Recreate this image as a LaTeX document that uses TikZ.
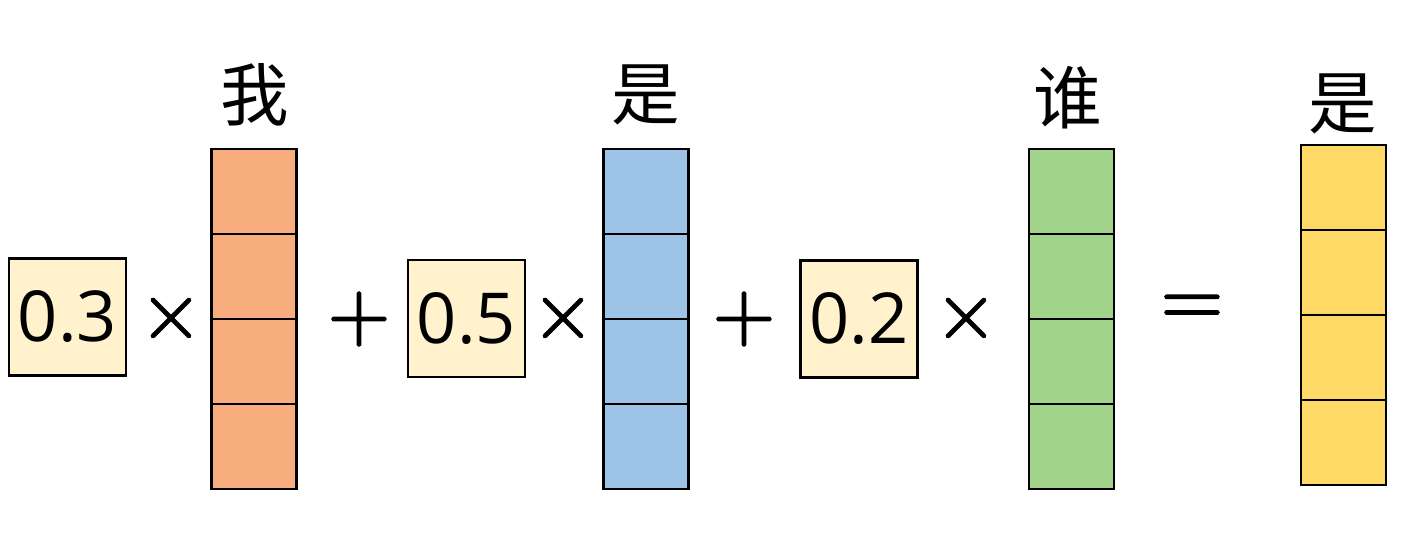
\documentclass[tikz,border=0pt]{standalone}
\usepackage{fontspec}
\setmainfont{Open Sans}
\newfontfamily\cjk{Noto Sans CJK SC}
\newfontfamily\opfont{lmroman10-regular}[Extension=.otf,FakeBold=2]
\definecolor{weightfill}{HTML}{FFF2CC}
\definecolor{wofill}{HTML}{F8AD7F}
\definecolor{shifill}{HTML}{9DC3E6}
\definecolor{sheifill}{HTML}{A2D38B}
\definecolor{outfill}{HTML}{FFD966}
\begin{document}
\begin{tikzpicture}[x=0.02cm,y=-0.02cm]
	\tikzstyle{every node}+=[inner sep=0pt]
	\tikzstyle{weight}=[draw=black,line width=1.4pt,fill=weightfill,minimum width=2.34cm,minimum height=2.34cm,font=\fontsize{40}{40}\selectfont]
	\tikzstyle{cell}=[draw=black,line width=1.4pt,minimum width=1.7cm,minimum height=1.7cm]
	\tikzstyle{word}=[font=\cjk\fontsize{39}{39}\selectfont]
	\tikzstyle{op}=[font=\opfont\fontsize{46}{46}\selectfont]
	\fill [white] (0,0) rectangle (1418,542);
	% weights
	\node [weight] (w1) at (67.5,317) {0.3};
	\node [weight] (w2) at (466.5,318.5) {0.5};
	\node [weight] (w3) at (859,319) {0.2};
	% word vectors
	\foreach \i/\y in {1/191.5,2/276.5,3/361.5,4/446.5} {
		\node [cell,fill=wofill] (a\i) at (254,\y) {};
		\node [cell,fill=shifill] (b\i) at (646,\y) {};
		\node [cell,fill=sheifill] (c\i) at (1071.5,\y) {};
		\node [cell,fill=outfill] (d\i) at (1343.5,\y-4) {};
	}
	\node [word] (wo) at (255,95) {我};
	\node [word] (shi) at (646,95) {是};
	\node [word] (shei) at (1068,98) {谁};
	\node [word] (out) at (1343,104) {是};
	% operators
	\node [op] (m1) at (171,318) {×};
	\node [op] (p1) at (359,319) {+};
	\node [op] (m2) at (563,318) {×};
	\node [op] (p2) at (744,319) {+};
	\node [op] (m3) at (966,318) {×};
	\node [op] (eq) at (1192,310) {=};
\end{tikzpicture}
\end{document}
